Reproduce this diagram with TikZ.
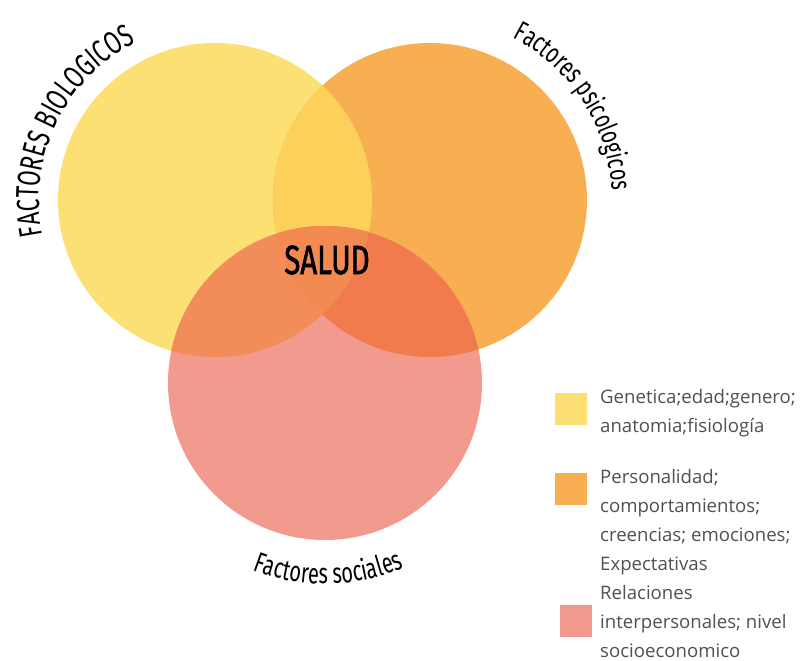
\documentclass[tikz,border=0pt]{standalone}
\usepackage{fontspec}
\setmainfont{Open Sans}
\newfontfamily\labelfont{Fira Sans}[FakeStretch=0.7]
\newfontfamily\saludfont{Fira Sans}[FakeStretch=0.72,FakeBold=1.4]
\usetikzlibrary{decorations.text}

\definecolor{bioyellow}{RGB}{253,224,116}
\definecolor{psiorange}{RGB}{247,175,82}
\definecolor{socpink}{RGB}{243,154,143}
\definecolor{biopsi}{RGB}{253,208,90}
\definecolor{biosoc}{RGB}{242,140,88}
\definecolor{psisoc}{RGB}{242,123,77}
\definecolor{allthree}{RGB}{242,138,82}
\definecolor{keygray}{RGB}{80,80,80}

\begin{document}
\begin{tikzpicture}[x=1pt,y=1pt,
    venn/.style={circle,minimum size=314pt,inner sep=0pt},
    key/.style={minimum size=32pt,inner sep=0pt},
    keytext/.style={anchor=north west,align=left,inner sep=0pt,text=keygray,
      font=\fontsize{18.6}{29}\selectfont}]
    \useasboundingbox (0,0) rectangle (807,661);

    \node[venn,fill=bioyellow] (bio) at (215,461) {};
    \node[venn,fill=psiorange] (psi) at (430,461) {};
    \node[venn,fill=socpink]   (soc) at (325,278) {};

    % overlaps
    \begin{scope}
      \clip (bio.center) circle[radius=157];
      \fill[biopsi] (psi.center) circle[radius=157];
      \fill[biosoc] (soc.center) circle[radius=157];
    \end{scope}
    \begin{scope}
      \clip (psi.center) circle[radius=157];
      \fill[psisoc] (soc.center) circle[radius=157];
      \clip (bio.center) circle[radius=157];
      \fill[allthree] (soc.center) circle[radius=157];
    \end{scope}

    \node[font=\saludfont\fontsize{41}{41}\selectfont] (salud) at (327,401) {SALUD};

    % labels on the circles
    \path[decorate,decoration={text along path,text align=center,
        text={|\labelfont\fontsize{32}{32}\selectfont|FACTORES BIOLOGICOS}}]
      ([shift={(200:176)}]bio.center) arc[start angle=200,end angle=108,radius=176];
    \path[decorate,decoration={text along path,text align=center,
        text={|\labelfont\fontsize{28}{28}\selectfont|Factores psicologicos}}]
      ([shift={(82:182)}]psi.center) arc[start angle=82,end angle=-16,radius=182];
    \path[decorate,decoration={text along path,text align=center,
        text={|\labelfont\fontsize{28.5}{28.5}\selectfont|Factores sociales}}]
      ([shift={(222:201)}]soc.center) arc[start angle=222,end angle=320,radius=201];

    % legend
    \node[key,fill=bioyellow] (k1) at (571,252) {};
    \node[key,fill=psiorange] (k2) at (571,172) {};
    \node[key,fill=socpink]   (k3) at (575.5,40) {};
    \node[keytext] (t1) at (600,272) {Genetica;edad;genero;\\anatomia;fisiología};
    \node[keytext] (t2) at (600,192) {Personalidad;\\comportamientos;\\creencias; emociones;\\Expectativas};
    \node[keytext] (t3) at (600,76) {Relaciones\\interpersonales; nivel\\socioeconomico};
\end{tikzpicture}
\end{document}
